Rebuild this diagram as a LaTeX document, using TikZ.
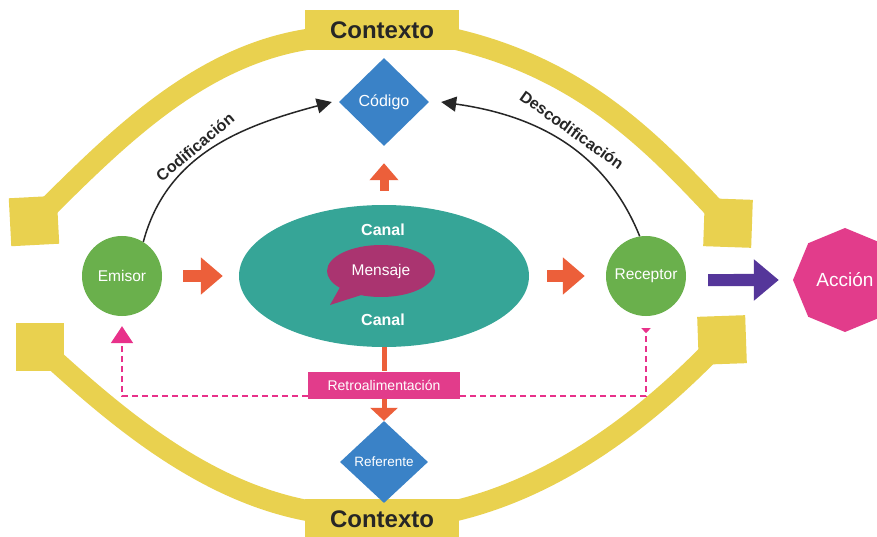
\documentclass[tikz,border=0pt]{standalone}
\usepackage{fontspec}
\setmainfont{Liberation Sans}
\usetikzlibrary{arrows.meta,positioning,shapes.geometric,shapes.callouts,backgrounds}

\definecolor{ctxyellow}{HTML}{E9D14F}
\definecolor{codeblue}{HTML}{3A82C7}
\definecolor{chanteal}{HTML}{36A597}
\definecolor{msgpurple}{HTML}{AA3470}
\definecolor{persongreen}{HTML}{6AB04C}
\definecolor{arrorange}{HTML}{EC5F3A}
\definecolor{actpurple}{HTML}{55369A}
\definecolor{actpink}{HTML}{E23C8B}
\definecolor{fbpink}{HTML}{E8318A}

\begin{document}
\begin{tikzpicture}[x=1pt, y=1pt,
                ctxbox/.style={fill=ctxyellow, minimum width=154pt, minimum height=40pt, inner sep=0pt, text=black!85, font=\fontsize{24}{26}\selectfont\bfseries},
                corner/.style={fill=ctxyellow, minimum size=48pt, inner sep=0pt},
                band/.style={draw=ctxyellow, line width=21pt},
                person/.style={circle, fill=persongreen, minimum size=80pt, inner sep=0pt, text=white, font=\fontsize{15.5}{17}\selectfont},
                codebox/.style={diamond, fill=codeblue, inner sep=0pt, text=white},
                chlabel/.style={text=white, font=\fontsize{16}{18}\selectfont\bfseries},
                lbl/.style={text=black!85, font=\fontsize{16}{18}\selectfont\bfseries},
                blockarr/.style={draw=arrorange, line width=12pt, -{Triangle[length=22pt, width=36pt]}},
                purplearr/.style={draw=actpurple, line width=12pt, -{Triangle[length=25pt, width=40pt]}},
                curvearr/.style={draw=black!85, line width=1.5pt, -{Triangle[length=15pt, width=15pt]}},
                feedback/.style={draw=fbpink, line width=1.8pt, dash pattern=on 6pt off 4pt}
            ]

            \useasboundingbox (0,0) rectangle (877,536);

            % context frame
            \node[ctxbox] (ctxtop) at (382,506) {Contexto};
            \node[ctxbox] (ctxbot) at (382,17) {Contexto};
            \node[corner, rotate=3] (sqtl) at (34,315) {};
            \node[corner, rotate=-2] (sqtr) at (728,313) {};
            \node[corner] (sqbl) at (40,189) {};
            \node[corner, rotate=2] (sqbr) at (722,196) {};

            % elements
            \node[codebox, minimum width=90pt, minimum height=88pt, font=\fontsize{16}{18}\selectfont] (codigo) at (384,434) {Código};
            \node[ellipse, fill=chanteal, minimum width=290pt, minimum height=142pt] (canal) at (384,260) {};
            \node[chlabel] (canaltop) at (383,306) {Canal};
            \node[chlabel] (canalbot) at (383,216) {Canal};
            \node[ellipse callout, fill=msgpurple, minimum width=108pt, minimum height=52pt, callout absolute pointer={(330,231)}, callout pointer arc=28, text=white, font=\fontsize{15.5}{17}\selectfont] (mensaje) at (381,265) {Mensaje};
            \node[person] (emisor) at (122,260) {Emisor};
            \node[person] (receptor) at (646,260) {Receptor};
            \node[regular polygon, regular polygon sides=8, shape border rotate=22.5, fill=actpink, minimum size=104pt, inner sep=0pt, text=white, font=\fontsize{19}{21}\selectfont] (accion) at (845,256) {Acción};
            \node[fill=actpink, minimum width=152pt, minimum height=27pt, inner sep=0pt, text=white, font=\fontsize{14}{16}\selectfont] (retro) at (384,151) {Retroalimentación};
            \node[codebox, minimum width=88pt, minimum height=82pt, font=\fontsize{13.5}{15}\selectfont] (referente) at (384,74) {Referente};

            \node[lbl, rotate=40] (codlbl) at (195,389) {Codificación};
            \node[lbl, rotate=-35.5] (desclbl) at (572,406) {Descodificación};

            % connectors
            \draw[blockarr, shorten <=21pt, shorten >=16pt] (emisor) -- (canal);
            \draw[blockarr, shorten <=18pt, shorten >=21pt] (canal) -- (receptor);
            \draw[purplearr, shorten <=22pt, shorten >=14pt] (receptor.east |- accion) -- (accion);
            \draw[draw=arrorange, line width=9pt, -{Triangle[length=17pt, width=28pt]}, shorten <=14pt, shorten >=17pt] (canal) -- (codigo);
            \draw[draw=arrorange, line width=5pt] (canal) -- (retro);
            \draw[draw=arrorange, line width=5pt, -{Triangle[length=13pt, width=27pt]}] (retro) -- (referente.north);

            \draw[curvearr] (emisor.58) to[out=75, in=195] ([xshift=-7pt]codigo.west);
            \draw[curvearr] (receptor.99) to[out=112, in=-8] ([xshift=12pt]codigo.east);

            \draw[feedback, -{Triangle[length=17pt, width=22pt]}, shorten >=10pt] ([yshift=3pt]retro.south west) -| (emisor);
            \draw[feedback, -{Triangle[reversed, length=5pt, width=9pt]}, shorten >=12pt] ([yshift=3pt]retro.south east) -| (receptor);

            \begin{scope}[on background layer]
                \fill[white] (0,0) rectangle (877,536);
                \draw[band] (sqtl.center) .. controls (110,390) and (195,480) .. ([xshift=5pt,yshift=-9pt]ctxtop.west);
                \draw[band] ([xshift=-5pt,yshift=-9pt]ctxtop.east) .. controls (590,465) and (660,385) .. (sqtr.center);
                \draw[band] (sqbl.center) .. controls (110,125) and (200,45) .. ([xshift=5pt,yshift=8pt]ctxbot.west);
                \draw[band] ([xshift=-5pt,yshift=8pt]ctxbot.east) .. controls (560,50) and (650,120) .. (sqbr.center);
            \end{scope}

        \end{tikzpicture}
\end{document}
